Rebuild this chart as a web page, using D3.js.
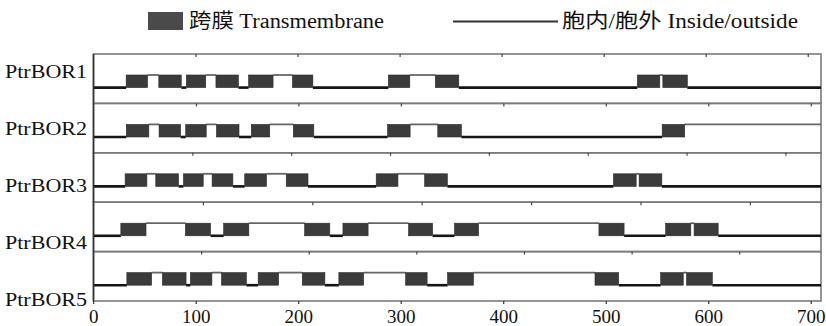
<!DOCTYPE html>
<html>
<head>
<meta charset="utf-8">
<script src="https://cdn.jsdelivr.net/npm/d3@7"></script>
<style>
  body { margin: 0; background: #fff; }
  text { font-family: "Liberation Serif", "Times New Roman", "Noto Sans CJK SC", serif; }
</style>
</head>
<body>
<div id="chart"></div>
<script>
// Datos: nombres de proteinas, largo del eje de cada panel y segmentos transmembrana
const names = ["PtrBOR1", "PtrBOR2", "PtrBOR3", "PtrBOR4", "PtrBOR5"];
const spans = [713, 710, 736, 665, 676];

const tmPtrBOR1 = [[32,53],[64,86],[91,110],[120,142],[152,176],[195,215],[289,310],[335,358],[533,555],[558,582]];
const tmPtrBOR2 = [[32,54],[64,85],[90,110],[120,142],[154,172],[195,215],[287,309],[336,359],[555,577]];
const tmPtrBOR3 = [[32,54],[63,86],[91,111],[120,141],[153,175],[195,217],[286,308],[335,358],[526,549],[552,575]];
const tmPtrBOR4 = [[25,48],[84,107],[119,142],[193,216],[228,251],[288,310],[330,352],[462,485],[523,546],[549,571]];
const tmPtrBOR5 = [[31,54],[64,86],[90,110],[119,142],[153,172],[194,215],[228,251],[290,310],[329,353],[466,488],[527,548],[551,575]];
const tmAll = [tmPtrBOR1, tmPtrBOR2, tmPtrBOR3, tmPtrBOR4, tmPtrBOR5];

const xTicks = [0, 100, 200, 300, 400, 500, 600, 700];
const legendLabels = ["跨膜 Transmembrane", "胞内/胞外  Inside/outside"];

// Configuracion
const width = 826, height = 326;
const plotLeft = 93.5, plotRight = 821, plotTop = 54, plotBottom = 301;

const svg = d3.select("#chart").append("svg")
  .attr("width", width)
  .attr("height", height);

const yBand = d3.scaleBand().domain(names).range([plotTop, plotBottom]);
const bw = yBand.bandwidth();
const yOut = bw * 0.425, yIn = bw * 0.68;

// Paneles, uno por proteina
names.forEach(function(name, i) {
  const x = d3.scaleLinear().domain([0, spans[i]]).range([plotLeft, plotRight]);
  const g = svg.append("g").attr("transform", "translate(0," + yBand(name) + ")");

  g.append("rect")
    .attr("x", plotLeft).attr("y", 0)
    .attr("width", plotRight - plotLeft).attr("height", bw)
    .style("fill", "none")
    .style("stroke", "#7a7a7a")
    .style("stroke-width", 1.6);

  // ticks pequeños hacia adentro en el borde superior
  const ax = g.append("g")
    .call(d3.axisBottom(x).tickValues(d3.range(100, spans[i], 100)).tickSize(3).tickFormat(""));
  ax.select(".domain").remove();
  ax.selectAll("line").style("stroke", "#444").style("stroke-width", 1.2);

  // arma los tramos alternando adentro / afuera
  const loops = [];
  let pos = 0, side = "in";
  tmAll[i].forEach(function(t) {
    loops.push({from: pos, to: t[0], side: side});
    side = side == "in" ? "out" : "in";
    pos = t[1];
  });
  loops.push({from: pos, to: spans[i], side: side});

  g.selectAll(".loop")
    .data(loops)
    .enter().append("line")
    .attr("class", "loop")
    .attr("x1", d => x(d.from))
    .attr("x2", d => x(d.to))
    .attr("y1", d => d.side == "in" ? yIn : yOut)
    .attr("y2", d => d.side == "in" ? yIn : yOut)
    .style("stroke", d => d.side == "in" ? "#151515" : "#666")
    .style("stroke-width", d => d.side == "in" ? 2.6 : 1.8);

  g.selectAll(".tm")
    .data(tmAll[i])
    .enter().append("rect")
    .attr("class", "tm")
    .attr("x", d => x(d[0]))
    .attr("y", yOut)
    .attr("width", d => x(d[1]) - x(d[0]))
    .attr("height", yIn - yOut)
    .style("fill", "#3b3b3b")
    .style("stroke", "#2a2a2a")
    .style("stroke-width", 0.6);
});

// borde izquierdo mas oscuro
svg.append("line")
  .attr("x1", plotLeft).attr("x2", plotLeft)
  .attr("y1", plotTop).attr("y2", plotBottom)
  .style("stroke", "#333").style("stroke-width", 1.6);

// Etiquetas de las proteinas
const yLab = d3.scalePoint().domain(names).range([78, 306]);
svg.selectAll(".name")
  .data(names)
  .enter().append("text")
  .attr("class", "name")
  .attr("x", 5)
  .attr("y", d => yLab(d))
  .attr("textLength", 82)
  .attr("lengthAdjust", "spacingAndGlyphs")
  .style("font-size", "19px")
  .style("fill", "#111")
  .text(d => d);

// Eje inferior
const xb = d3.scaleLinear().domain([0, 710]).range([93.2, plotRight]);
const xAxis = svg.append("g")
  .attr("transform", "translate(0," + plotBottom + ")")
  .call(d3.axisBottom(xb).tickValues(xTicks).tickSize(3).tickPadding(6).tickFormat(d3.format("d")));
xAxis.select(".domain").remove();
xAxis.selectAll("line").style("stroke", "#333").style("stroke-width", 1.2);
xAxis.selectAll("text")
  .style("font-family", "'Liberation Serif', serif")
  .style("font-size", "19px")
  .style("fill", "#111");

// Leyenda
svg.append("rect")
  .attr("x", 148).attr("y", 12)
  .attr("width", 35).attr("height", 18)
  .style("fill", "#4a4a4a");
svg.append("text")
  .attr("x", 189).attr("y", 28)
  .attr("textLength", 195)
  .attr("lengthAdjust", "spacingAndGlyphs")
  .style("font-size", "20px")
  .style("fill", "#111")
  .text(legendLabels[0]);

svg.append("line")
  .attr("x1", 453).attr("x2", 558)
  .attr("y1", 21.5).attr("y2", 21.5)
  .style("stroke", "#333").style("stroke-width", 2);
svg.append("text")
  .attr("x", 562).attr("y", 28)
  .attr("textLength", 236)
  .attr("lengthAdjust", "spacingAndGlyphs")
  .style("font-size", "20px")
  .style("fill", "#111")
  .text(legendLabels[1]);
</script>
</body>
</html>
